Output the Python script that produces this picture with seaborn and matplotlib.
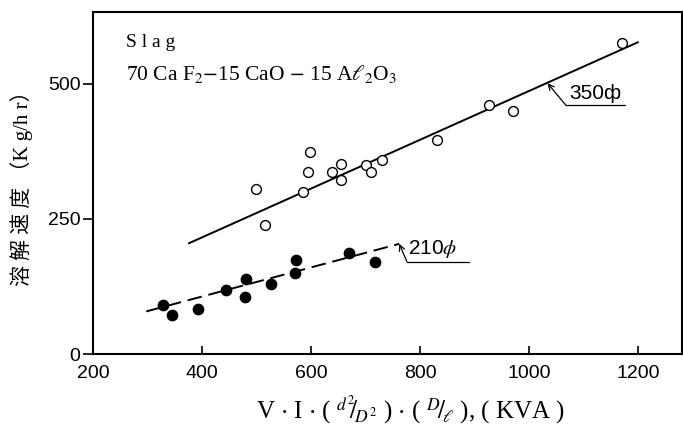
import numpy as np
import matplotlib
matplotlib.use("Agg")
import matplotlib.pyplot as plt
import pandas as pd
import seaborn as sns

# 350 phi electrode (open circles)
kva_350 = [499, 515, 585, 595, 598, 639, 655, 656, 701, 711, 730, 832, 926, 970, 1170]
rate_350 = [306, 238, 300, 337, 374, 337, 322, 352, 350, 337, 359, 396, 460, 450, 575]

# 210 phi electrode (filled circles)
kva_210 = [329, 346, 392, 445, 480, 479, 527, 570, 573, 669, 718]
rate_210 = [91, 72, 84, 118, 139, 105, 130, 150, 174, 187, 170]

# fitted lines (end points)
fit_350_x = [376, 1200]
fit_350_y = [205, 577]
fit_210_x = [298, 762]
fit_210_y = [79, 204]

x_ticks = [200, 400, 600, 800, 1000, 1200]
y_ticks = [0, 250, 500]

sns.set_style("ticks")
plt.rcParams['font.family'] = ['Liberation Sans', 'DejaVu Sans']
plt.rcParams['mathtext.fontset'] = 'stix'
plt.rcParams['text.color'] = 'black'
plt.rcParams['xtick.color'] = 'black'
plt.rcParams['ytick.color'] = 'black'
plt.rcParams['axes.edgecolor'] = 'black'

fig = plt.figure(figsize=(6.83, 4.41), dpi=100)
ax = fig.add_axes([0.136, 0.197, 0.862, 0.776])

sns.lineplot(x=fit_350_x, y=fit_350_y, color='black', lw=1.4, ax=ax)
sns.lineplot(x=fit_210_x, y=fit_210_y, color='black', lw=1.4,
             linestyle=(0, (7.5, 3.5)), ax=ax)
sns.scatterplot(x=kva_350, y=rate_350, marker='o', s=50, facecolor='white',
                edgecolor='black', linewidth=1.0, ax=ax, zorder=3)
sns.scatterplot(x=kva_210, y=rate_210, marker='o', s=55, color='black',
                edgecolor='black', linewidth=1.0, ax=ax, zorder=3)

ax.set_xlim(200, 1280)
ax.set_ylim(0, 633)
ax.set_xticks(x_ticks)
ax.set_yticks(y_ticks)
ax.tick_params(axis='x', direction='in', length=6, width=1.2, labelsize=14, pad=8)
ax.tick_params(axis='y', direction='out', length=7, width=1.2, labelsize=14, pad=2)
for sp in ax.spines.values():
    sp.set_linewidth(1.5)

# annotations
serif = ['Liberation Serif', 'DejaVu Serif']
ax.text(260, 576, "S l a g", fontsize=14, family=serif, va='center', ha='left')
ax.text(260, 518, r"70 Ca F$_2$$-$15 CaO $-$ 15 A$\ell_2$O$_3$", fontsize=15.5,
        family=serif, va='center', ha='left')

arrow = dict(arrowstyle='->', color='black', lw=0.9, shrinkA=0, shrinkB=0)
ax.annotate("", xy=(1034, 501), xytext=(1068, 460), arrowprops=arrow)
ax.plot([1068, 1176], [460, 460], color='black', lw=0.9)
ax.text(1074, 465, "350ф", fontsize=15, va='bottom', ha='left')

ax.annotate("", xy=(762, 204), xytext=(776, 171), arrowprops=arrow)
ax.plot([776, 890], [170, 170], color='black', lw=0.9)
ax.text(778, 175, r"210$\phi$", fontsize=15, va='bottom', ha='left')

fig.text(22 / 683, 1 - 183 / 441, "溶 解 速 度 （K g/h r）", rotation=90, fontsize=15,
         ha='center', va='center',
         family=['Liberation Serif', 'Noto Sans CJK JP', 'DejaVu Sans'])
fig.text(410 / 683, 1 - 410 / 441,
         r"V $\cdot$ I $\cdot$ ( $^{d^2}\!\!/_{\!D^2}$ ) $\cdot$ ( $^{D}\!/_{\!\ell}$ ), ( KVA )",
         fontsize=18, family=serif, ha='center', va='center')

fig.savefig("out.png", dpi=100)
